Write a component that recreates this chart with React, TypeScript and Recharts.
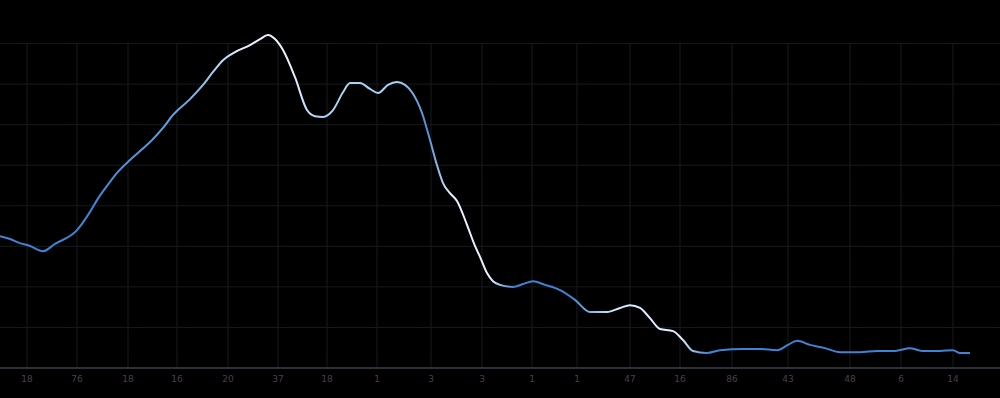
import { Line, LineChart, ReferenceLine, XAxis, YAxis } from "recharts";

// position along the time axis (0..1000) and the level
const POS = [
  0, 10, 20, 30, 43, 55, 77, 90, 97, 110, 117, 130, 140, 152, 163, 173, 190, 203, 213, 223,
  235, 250, 260, 268, 275, 283, 295, 307, 315, 323, 333, 343, 350, 360, 370, 378, 388, 397, 405, 412,
  422, 430, 437, 443, 450, 457, 467, 475, 480, 487, 493, 500, 513, 523, 533, 545, 560, 575, 590, 607,
  620, 630, 640, 650, 660, 673, 683, 693, 707, 720, 743, 760, 777, 788, 797, 810, 825, 840, 860, 877,
  895, 910, 922, 940, 953, 960, 970,
];
const LEVEL = [
  3.25, 3.18, 3.08, 3.01, 2.88, 3.06, 3.4, 3.85, 4.14, 4.59, 4.81, 5.13, 5.35, 5.62, 5.92, 6.24, 6.63, 6.98, 7.3, 7.59,
  7.79, 7.96, 8.11, 8.21, 8.11, 7.84, 7.17, 6.36, 6.21, 6.19, 6.36, 6.8, 7.03, 7.03, 6.88, 6.78, 6.98, 7.05, 6.98, 6.8,
  6.29, 5.62, 5.0, 4.56, 4.31, 4.12, 3.53, 3.01, 2.74, 2.34, 2.14, 2.05, 2.0, 2.07, 2.14, 2.05, 1.92, 1.68, 1.38, 1.38,
  1.48, 1.55, 1.48, 1.23, 0.96, 0.91, 0.69, 0.42, 0.37, 0.44, 0.47, 0.47, 0.44, 0.57, 0.67, 0.57, 0.49, 0.39, 0.39, 0.42,
  0.42, 0.49, 0.42, 0.42, 0.44, 0.37, 0.37,
];

const TICK_POS = [27, 77, 128, 177, 228, 278, 327, 377, 431, 482, 532, 577, 630, 680, 732, 788, 850, 901, 953];
const TICK_LABELS = ["18", "76", "18", "16", "20", "37", "18", "1", "3", "3", "1", "1", "47", "16", "86", "43", "48", "6", "14"];
const LEVEL_TICKS = [1, 2, 3, 4, 5, 6, 7, 8];
const GRID_TOP = 8;

const data = POS.map((p, i) => ({ p, v: LEVEL[i] }));

const BLUE = "#3f84d4";
const WHITE = "#e6f3ff";
const LIGHT = "#a9d2f5";
const GRID = "#161b1d";

export default function App() {
  return (
    <div style={{ width: 1000, height: 398, background: "#000" }}>
      <style>{"body{margin:0;background:#000}"}</style>
      <LineChart width={1000} height={398} data={data} margin={{ top: 3, right: 0, bottom: 0, left: 0 }}>
        <defs>
          <linearGradient id="lineShade" x1="0" y1="0" x2="1" y2="0">
            <stop offset="0%" stopColor={BLUE} />
            <stop offset="9%" stopColor={BLUE} />
            <stop offset="19%" stopColor="#6aa7e6" />
            <stop offset="25%" stopColor={WHITE} />
            <stop offset="30%" stopColor={WHITE} />
            <stop offset="33%" stopColor={LIGHT} />
            <stop offset="41%" stopColor={LIGHT} />
            <stop offset="44%" stopColor="#4b8ad6" />
            <stop offset="46.5%" stopColor={WHITE} />
            <stop offset="50.5%" stopColor={WHITE} />
            <stop offset="53%" stopColor={BLUE} />
            <stop offset="59%" stopColor={BLUE} />
            <stop offset="63%" stopColor="#cfe6fb" />
            <stop offset="70%" stopColor={WHITE} />
            <stop offset="73%" stopColor={BLUE} />
            <stop offset="100%" stopColor={BLUE} />
          </linearGradient>
        </defs>
        {/* grid drawn only up to the top level line; the curve overshoots it */}
        {LEVEL_TICKS.map((v) => (
          <ReferenceLine key={`h${v}`} y={v} stroke={GRID} strokeWidth={1} />
        ))}
        {TICK_POS.map((x) => (
          <ReferenceLine
            key={`v${x}`}
            segment={[{ x, y: 0 }, { x, y: GRID_TOP }]}
            stroke={GRID}
            strokeWidth={1}
          />
        ))}
        <XAxis
          dataKey="p"
          type="number"
          domain={[0, 1000]}
          ticks={TICK_POS}
          tickFormatter={(t: number) => TICK_LABELS[TICK_POS.indexOf(t)] ?? ""}
          height={30}
          axisLine={{ stroke: "#34444a", strokeWidth: 1.5 }}
          tickLine={false}
          tickSize={6}
          tick={{ fill: "#444", fontSize: 9, fontFamily: "DejaVu Sans" }}
          interval={0}
        />
        <YAxis hide type="number" domain={[0, 9]} ticks={LEVEL_TICKS} allowDataOverflow width={0} />
        <Line
          type="monotone"
          dataKey="v"
          stroke="url(#lineShade)"
          strokeWidth={2}
          dot={false}
          isAnimationActive={false}
        />
      </LineChart>
    </div>
  );
}
